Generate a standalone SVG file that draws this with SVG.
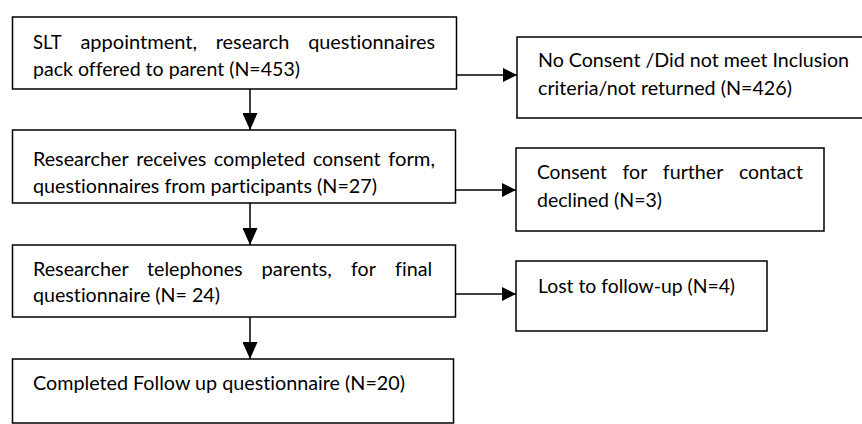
<svg xmlns="http://www.w3.org/2000/svg" width="862" height="424" viewBox="0 0 862 424">
  <style>
    .box { fill: #ffffff; stroke: #000000; stroke-width: 1.5; }
    .lbl { font-family: Lato, "Open Sans", "Liberation Sans", sans-serif; font-size: 19.5px; fill: #000000; font-variant-ligatures: none; }
    .edge { fill: none; stroke: #000000; stroke-width: 1.5; }
  </style>
  <defs>
    <!-- heads point along the line direction -->
    <marker id="head-v" markerUnits="userSpaceOnUse" markerWidth="17" markerHeight="15" refX="17" refY="7.5" orient="auto" viewBox="0 0 17 15">
      <path d="M0 0 L17 7.5 L0 15 Z" fill="#000000"/>
    </marker>
    <marker id="head-h" markerUnits="userSpaceOnUse" markerWidth="14" markerHeight="14" refX="14" refY="7" orient="auto" viewBox="0 0 14 14">
      <path d="M0 0 L14 7 L0 14 Z" fill="#000000"/>
    </marker>
  </defs>
  <rect width="862" height="424" fill="#ffffff"/>

  <!-- connectors -->
  <g id="connectors">
    <line class="edge" x1="250" y1="89" x2="250" y2="130" marker-end="url(#head-v)"/>
    <line class="edge" x1="250" y1="203" x2="250" y2="245" marker-end="url(#head-v)"/>
    <line class="edge" x1="250" y1="317" x2="250" y2="359" marker-end="url(#head-v)"/>
    <line class="edge" x1="456" y1="75" x2="517" y2="75" marker-end="url(#head-h)"/>
    <line class="edge" x1="455" y1="190" x2="516" y2="190" marker-end="url(#head-h)"/>
    <line class="edge" x1="455" y1="294" x2="516" y2="294" marker-end="url(#head-h)"/>
  </g>

  <!-- main flow -->
  <g id="offered">
    <rect class="box" x="12.5" y="17" width="444" height="72"/>
    <text class="lbl" x="33" y="49" textLength="28.7" lengthAdjust="spacingAndGlyphs">SLT</text>
    <text class="lbl" x="80.4" y="49" textLength="116.6" lengthAdjust="spacingAndGlyphs">appointment,</text>
    <text class="lbl" x="215.7" y="49" textLength="73.8" lengthAdjust="spacingAndGlyphs">research</text>
    <text class="lbl" x="308.2" y="49" textLength="127" lengthAdjust="spacingAndGlyphs">questionnaires</text>
    <text class="lbl" x="33" y="76" textLength="267" lengthAdjust="spacingAndGlyphs">pack offered to parent (N=453)</text>
  </g>

  <g id="received">
    <rect class="box" x="12.5" y="130" width="443" height="73"/>
    <text class="lbl" x="33" y="166" textLength="95.6" lengthAdjust="spacingAndGlyphs">Researcher</text>
    <text class="lbl" x="136.2" y="166" textLength="70.1" lengthAdjust="spacingAndGlyphs">receives</text>
    <text class="lbl" x="213.8" y="166" textLength="91.5" lengthAdjust="spacingAndGlyphs">completed</text>
    <text class="lbl" x="312.9" y="166" textLength="67.7" lengthAdjust="spacingAndGlyphs">consent</text>
    <text class="lbl" x="388.2" y="166" textLength="46.8" lengthAdjust="spacingAndGlyphs">form,</text>
    <text class="lbl" x="33" y="193" textLength="344" lengthAdjust="spacingAndGlyphs">questionnaires from participants (N=27)</text>
  </g>

  <g id="telephoned">
    <rect class="box" x="12.5" y="245" width="443" height="72"/>
    <text class="lbl" x="33" y="276" textLength="95.6" lengthAdjust="spacingAndGlyphs">Researcher</text>
    <text class="lbl" x="147" y="276" textLength="95.6" lengthAdjust="spacingAndGlyphs">telephones</text>
    <text class="lbl" x="261.5" y="276" textLength="70.4" lengthAdjust="spacingAndGlyphs">parents,</text>
    <text class="lbl" x="351" y="276" textLength="24.8" lengthAdjust="spacingAndGlyphs">for</text>
    <text class="lbl" x="395" y="276" textLength="37.1" lengthAdjust="spacingAndGlyphs">final</text>
    <text class="lbl" x="33" y="302" textLength="187" lengthAdjust="spacingAndGlyphs">questionnaire (N= 24)</text>
  </g>

  <g id="completed">
    <rect class="box" x="12.5" y="359" width="441" height="64"/>
    <text class="lbl" x="33" y="390" textLength="372" lengthAdjust="spacingAndGlyphs">Completed Follow up questionnaire (N=20)</text>
  </g>

  <!-- exclusions -->
  <g id="no-consent">
    <rect class="box" x="517" y="37" width="360" height="81"/>
    <text class="lbl" x="538" y="67" textLength="311" lengthAdjust="spacingAndGlyphs">No Consent /Did not meet Inclusion</text>
    <text class="lbl" x="538" y="95" textLength="254" lengthAdjust="spacingAndGlyphs">criteria/not returned (N=426)</text>
  </g>

  <g id="declined">
    <rect class="box" x="516" y="148" width="308" height="83"/>
    <text class="lbl" x="537" y="179" textLength="70" lengthAdjust="spacingAndGlyphs">Consent</text>
    <text class="lbl" x="622.5" y="179" textLength="24.8" lengthAdjust="spacingAndGlyphs">for</text>
    <text class="lbl" x="662.8" y="179" textLength="60.6" lengthAdjust="spacingAndGlyphs">further</text>
    <text class="lbl" x="738.9" y="179" textLength="64" lengthAdjust="spacingAndGlyphs">contact</text>
    <text class="lbl" x="537" y="207" textLength="125" lengthAdjust="spacingAndGlyphs">declined (N=3)</text>
  </g>

  <g id="lost">
    <rect class="box" x="516" y="261" width="251" height="70"/>
    <text class="lbl" x="538" y="293" textLength="197" lengthAdjust="spacingAndGlyphs">Lost to follow-up (N=4)</text>
  </g>
</svg>
